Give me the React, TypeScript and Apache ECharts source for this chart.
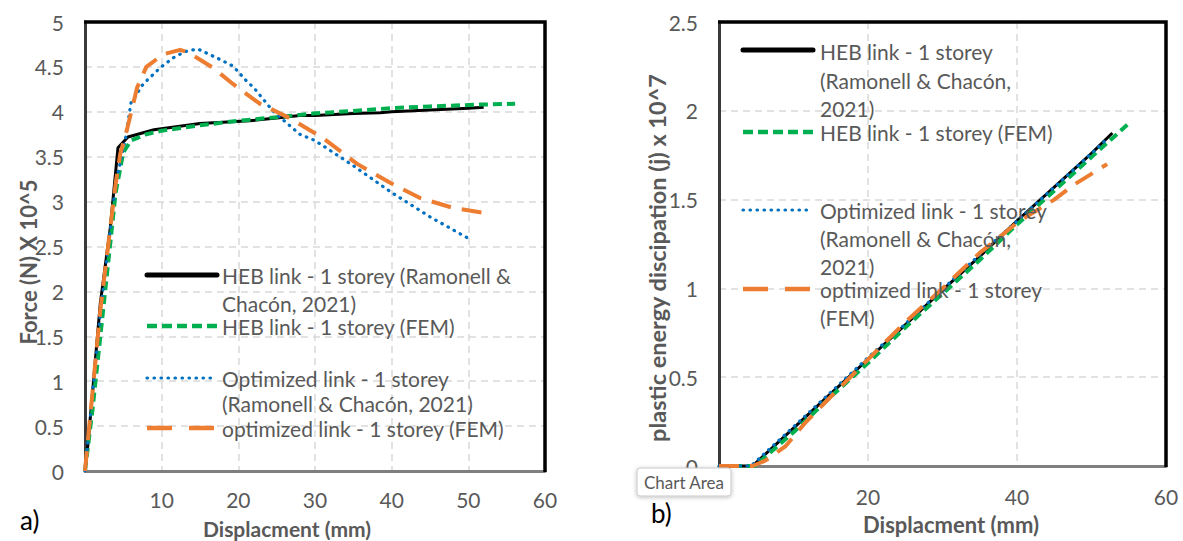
import React, { useEffect, useRef } from "react";
import * as echarts from "echarts";

// ---------- Data: (a) Force vs displacement (force in N x 10^5) ----------
const hebRefForceX = [0, 0.4, 2, 3.3, 4.3, 5.6, 9, 15, 21.5, 25, 28, 30, 35, 38.5, 40, 45, 50, 52];
const hebRefForceY = [0, 0.31, 1.87, 2.71, 3.6, 3.72, 3.8, 3.87, 3.9, 3.93, 3.96, 3.96, 3.98, 3.99, 4.0, 4.02, 4.04, 4.05];

const hebFemForceX = [0, 1, 2.5, 4, 5, 6, 8, 10, 15, 20, 25, 29.7, 35, 39.8, 45, 51.5, 56.1];
const hebFemForceY = [0, 0.7, 1.9, 3.1, 3.55, 3.68, 3.75, 3.79, 3.85, 3.9, 3.94, 3.98, 4.01, 4.04, 4.06, 4.08, 4.09];

const optRefForceX = [0, 2, 4, 5.3, 6, 7.6, 9.8, 11.5, 13, 14.7, 17.2, 19.3, 21.1, 22, 24.5, 28, 30, 35, 40, 45, 49.8];
const optRefForceY = [0, 1.75, 3.2, 3.71, 4.1, 4.31, 4.49, 4.6, 4.67, 4.7, 4.6, 4.51, 4.34, 4.27, 4.01, 3.75, 3.68, 3.4, 3.1, 2.83, 2.6];

const optFemForceX = [0, 2, 4, 4.6, 5.5, 6.8, 8, 10.2, 12.4, 13.5, 16.7, 19.3, 22.8, 26.7, 31, 35.5, 39.8, 43.7, 48, 52.4];
const optFemForceY = [0, 1.79, 3.2, 3.53, 3.81, 4.27, 4.5, 4.64, 4.69, 4.66, 4.49, 4.31, 4.09, 3.93, 3.71, 3.42, 3.21, 3.04, 2.93, 2.87];

// ---------- Data: (b) Plastic energy dissipation (j x 10^7) ----------
const hebRefEnergyX = [0, 4.5, 10, 15, 20, 25, 30, 35, 40, 45, 50, 52.8];
const hebRefEnergyY = [0, 0, 0.213, 0.407, 0.601, 0.795, 0.99, 1.18, 1.38, 1.57, 1.76, 1.875];

const hebFemEnergyX = [0, 4.8, 10, 15, 20, 25, 30, 35, 40, 45, 50, 55.3];
const hebFemEnergyY = [0, 0, 0.19, 0.39, 0.58, 0.78, 0.97, 1.16, 1.36, 1.55, 1.74, 1.94];

const optRefEnergyX = [0, 4.3, 10, 15, 20, 25, 30, 35, 40, 45, 50, 52.3];
const optRefEnergyY = [0, 0, 0.22, 0.415, 0.61, 0.8, 0.995, 1.19, 1.38, 1.57, 1.76, 1.85];

const optFemEnergyX = [0, 4.5, 6.2, 8.9, 11.5, 15, 20, 25, 30, 35, 37.7, 40, 45, 47.5, 50, 52.1];
const optFemEnergyY = [0, 0, 0.03, 0.11, 0.24, 0.39, 0.6, 0.81, 1.0, 1.2, 1.29, 1.37, 1.5, 1.58, 1.645, 1.7];

// ---------- Text ----------
const leftLegendLines = [
  ["HEB link - 1 storey (Ramonell &", "Chacón, 2021)"],
  ["HEB link - 1 storey (FEM)"],
  ["Optimized link - 1 storey", "(Ramonell & Chacón, 2021)"],
  ["optimized link - 1 storey (FEM)"],
];
const rightLegendLines = [
  ["HEB link - 1 storey", "(Ramonell & Chacón,", "2021)"],
  ["HEB link - 1 storey (FEM)"],
  ["Optimized link - 1 storey", "(Ramonell & Chacón,", "2021)"],
  ["optimized link - 1 storey", "(FEM)"],
];
const xTitle = "Displacment (mm)";
const leftYTitle = "Force (N) X 10^5";
const rightYTitle = "plastic energy discipation (j) x 10^7";

const zip = (xs: number[], ys: number[]) => xs.map((x, i) => [x, ys[i]]);

const FONT = 'Lato, "Open Sans", sans-serif';
const GRAY = "#595959";

const G0 = { left: 85, top: 22, width: 460, height: 449 };
const G1 = { left: 719, top: 22, width: 447, height: 444 };

const styles = [
  { color: "#000000", width: 3, type: "solid" as any, cap: "butt" },
  { color: "#00b050", width: 4, type: [9, 5] as any, cap: "butt" },
  { color: "#0070c0", width: 3.2, type: [0.5, 6.5] as any, cap: "round" },
  { color: "#ed7d31", width: 4, type: [20, 11] as any, cap: "butt" },
];
const legendStyles = [
  { color: "#000000", width: 5, type: "solid" as any, cap: "round" },
  { color: "#00b050", width: 4.5, type: [10, 5] as any, cap: "butt" },
  { color: "#0070c0", width: 3.2, type: [0.5, 6.5] as any, cap: "round" },
  { color: "#ed7d31", width: 4.5, type: [25, 17] as any, cap: "butt" },
];

function legendGraphics(
  x0: number,
  x1: number,
  textX: number,
  symbolYs: number[],
  lineYs: number[][],
  lines: string[][]
) {
  const out: any[] = [];
  symbolYs.forEach((y, i) => {
    const s = legendStyles[i];
    out.push({
      type: "line",
      shape: { x1: x0, y1: y, x2: x1, y2: y },
      style: { stroke: s.color, lineWidth: s.width, lineDash: s.type === "solid" ? null : s.type, lineCap: s.cap },
      z: 100,
    });
    lines[i].forEach((t, j) => {
      out.push({
        type: "text",
        x: textX,
        y: lineYs[i][j],
        style: { text: t, fill: GRAY, font: `21px ${FONT}`, align: "left", verticalAlign: "middle", lineHeight: 20 },
        z: 100,
      });
    });
  });
  return out;
}

function frame(g: { left: number; top: number; width: number; height: number }) {
  return {
    type: "polyline",
    z: 60,
    shape: {
      points: [
        [g.left - 1, g.top],
        [g.left + g.width, g.top],
        [g.left + g.width, g.top + g.height + 1],
      ],
    },
    style: { stroke: "#000", lineWidth: 3.5, fill: null, lineJoin: "miter" },
  };
}

export default function App() {
  const ref = useRef<HTMLDivElement>(null);
  useEffect(() => {
    if (!ref.current) return;
    const chart = echarts.init(ref.current, null, { renderer: "svg" });

    const axisLabel = { color: GRAY, fontSize: 21, fontFamily: FONT };
    const split = { show: true, lineStyle: { color: "#d9d9d9", type: [7, 5] as any, width: 1.5 } };

    const seriesFor = (grid: number, data: number[][][]) =>
      data.map((d, i) => ({
        type: "line",
        xAxisIndex: grid,
        yAxisIndex: grid,
        data: d,
        showSymbol: false,
        symbol: "none",
        smooth: false,
        lineStyle: {
          color: styles[i].color,
          width: styles[i].width,
          type: styles[i].type,
          cap: styles[i].cap,
          join: "round",
        },
        z: 2 + i,
      }));

    const option: any = {
      animation: false,
      backgroundColor: "#ffffff",
      grid: [
        { ...G0, show: false },
        { ...G1, show: false },
      ],
      xAxis: [
        {
          type: "value", gridIndex: 0, min: 0, max: 60, interval: 10,
          axisLine: { show: true, onZero: false, lineStyle: { color: "#7f7f7f", width: 3 } },
          axisTick: { show: false },
          axisLabel: { ...axisLabel, margin: 18, showMinLabel: false },
          splitLine: split,
        },
        {
          type: "value", gridIndex: 1, min: 0, max: 60, interval: 20,
          axisLine: { show: true, onZero: false, lineStyle: { color: "#7f7f7f", width: 3 } },
          axisTick: { show: false },
          axisLabel: { ...axisLabel, margin: 20, showMinLabel: false },
          splitLine: split,
        },
      ],
      yAxis: [
        {
          type: "value", gridIndex: 0, min: 0, max: 5, interval: 0.5,
          axisLine: { show: true, onZero: false, lineStyle: { color: "#3a3a3a", width: 3 } },
          axisTick: { show: false },
          axisLabel: { ...axisLabel, margin: 21 },
          splitLine: split,
        },
        {
          type: "value", gridIndex: 1, min: 0, max: 2.5, interval: 0.5,
          axisLine: { show: true, onZero: false, lineStyle: { color: "#3a3a3a", width: 3 } },
          axisTick: { show: false },
          axisLabel: { ...axisLabel, margin: 21 },
          splitLine: split,
        },
      ],
      series: [
        ...seriesFor(0, [
          zip(hebRefForceX, hebRefForceY),
          zip(hebFemForceX, hebFemForceY),
          zip(optRefForceX, optRefForceY),
          zip(optFemForceX, optFemForceY),
        ]),
        ...seriesFor(1, [
          zip(hebRefEnergyX, hebRefEnergyY),
          zip(hebFemEnergyX, hebFemEnergyY),
          zip(optRefEnergyX, optRefEnergyY),
          zip(optFemEnergyX, optFemEnergyY),
        ]),
      ],
      graphic: [
        frame(G0),
        frame(G1),
        ...legendGraphics(147, 217, 222, [275, 326, 378, 428], [[275, 303], [326], [378, 403], [428]], leftLegendLines),
        ...legendGraphics(743, 813, 820, [50, 132, 210, 289], [[51, 80, 108], [132], [210, 238, 266], [289, 317]], rightLegendLines),
        { type: "text", x: 287, y: 528, style: { text: xTitle, fill: GRAY, font: `bold 21px ${FONT}`, align: "center", verticalAlign: "middle" } },
        { type: "text", x: 951, y: 524, style: { text: xTitle, fill: GRAY, font: `bold 22px ${FONT}`, align: "center", verticalAlign: "middle" } },
        { type: "text", x: 28, y: 262, rotation: Math.PI / 2, style: { text: leftYTitle, fill: GRAY, font: `bold 22px ${FONT}`, align: "center", verticalAlign: "middle" } },
        { type: "text", x: 657, y: 258, rotation: Math.PI / 2, style: { text: rightYTitle, fill: GRAY, font: `bold 23.5px ${FONT}`, align: "center", verticalAlign: "middle" } },
        { type: "text", x: 20, y: 520, style: { text: "a)", fill: "#000", font: `26px ${FONT}`, align: "left", verticalAlign: "middle" } },
        { type: "text", x: 651, y: 513, style: { text: "b)", fill: "#000", font: `26px ${FONT}`, align: "left", verticalAlign: "middle" } },
        {
          type: "rect", z: 200,
          shape: { x: 637, y: 468, width: 94, height: 28, r: 3 },
          style: { fill: "#ffffff", stroke: "#c8c8c8", lineWidth: 1, shadowBlur: 4, shadowColor: "rgba(0,0,0,0.25)", shadowOffsetY: 1 },
        },
        { type: "text", z: 201, x: 684, y: 482, style: { text: "Chart Area", fill: GRAY, font: `17px ${FONT}`, align: "center", verticalAlign: "middle" } },
      ],
    };
    chart.setOption(option);
    return () => chart.dispose();
  }, []);
  return <div ref={ref} style={{ position: "absolute", left: 0, top: 0, width: 1183, height: 541 }} />;
}
